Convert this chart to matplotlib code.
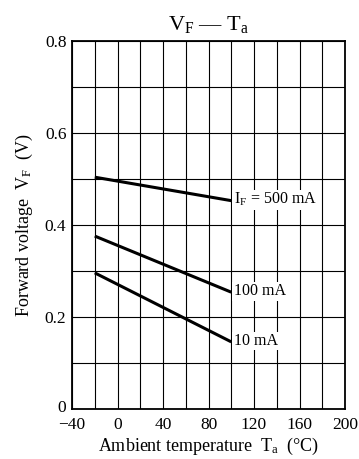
import numpy as np
import matplotlib
matplotlib.use("Agg")
import matplotlib.pyplot as plt
from matplotlib.transforms import ScaledTranslation

plt.rcParams['font.family'] = ['Liberation Serif', 'DejaVu Serif']
plt.rcParams['mathtext.fontset'] = 'custom'
plt.rcParams['mathtext.rm'] = 'Liberation Serif'
plt.rcParams['mathtext.it'] = 'Liberation Serif:italic'

# forward voltage vs ambient temperature, three forward currents
temp = [-20, 100]
vf_500mA = [0.504, 0.453]
vf_100mA = [0.376, 0.254]
vf_10mA = [0.296, 0.146]
labels = [r"$\mathrm{I_F}$ = 500 mA", "100 mA", "10 mA"]

xticks = [-40, 0, 40, 80, 120, 160, 200]
xticklabels = ["\u221240", "0", "40", "80", "120", "160", "200"]
yticks = [0, 0.2, 0.4, 0.6, 0.8]
yticklabels = ["0", "0.2", "0.4", "0.6", "0.8"]

fig = plt.figure(figsize=(3.59, 4.59), dpi=100)
ax = fig.add_axes([0.2006, 0.1089, 0.7604, 0.8017])

ax.set_xlim(-40, 200)
ax.set_ylim(0, 0.8)
ax.set_xticks(np.arange(-40, 201, 20), minor=True)
ax.set_yticks(np.arange(0, 0.81, 0.1), minor=True)
ax.set_xticks(xticks)
ax.set_xticklabels(xticklabels)
ax.set_yticks(yticks)
ax.set_yticklabels(yticklabels)
ax.tick_params(which='both', length=0, labelsize=12.5)
ax.tick_params(axis='x', pad=5.5)
ax.tick_params(axis='y', pad=4)
ax.grid(which='both', color='black', linewidth=0.8)
ax.set_axisbelow(True)
for s in ax.spines.values():
    s.set_linewidth(1.3)

# lift the "0" on the y axis a little so it clears "-40"
zero = ax.get_yticklabels()[0]
zero.set_transform(zero.get_transform() + ScaledTranslation(0, 2.5 / 72, fig.dpi_scale_trans))

for vals, lab in zip([vf_500mA, vf_100mA, vf_10mA], labels):
    ax.plot(temp, vals, color='black', linewidth=2.2, solid_capstyle='butt')
    ax.text(temp[-1] + 2, vals[-1] + 0.002, lab, fontsize=11.5, va='center', ha='left',
            bbox=dict(facecolor='white', edgecolor='none', pad=1))

ax.set_title("$\\mathrm{V_F}$ \u2014 $\\mathrm{T_a}$", fontsize=16, pad=8)
ax.set_xlabel(r"Ambient temperature  $\mathrm{T_a}$  (°C)", fontsize=13, labelpad=2.5)
ax.set_ylabel(r"Forward voltage  $\mathrm{V_F}$  (V)", fontsize=13, labelpad=7)

fig.savefig("out.png", dpi=100)
